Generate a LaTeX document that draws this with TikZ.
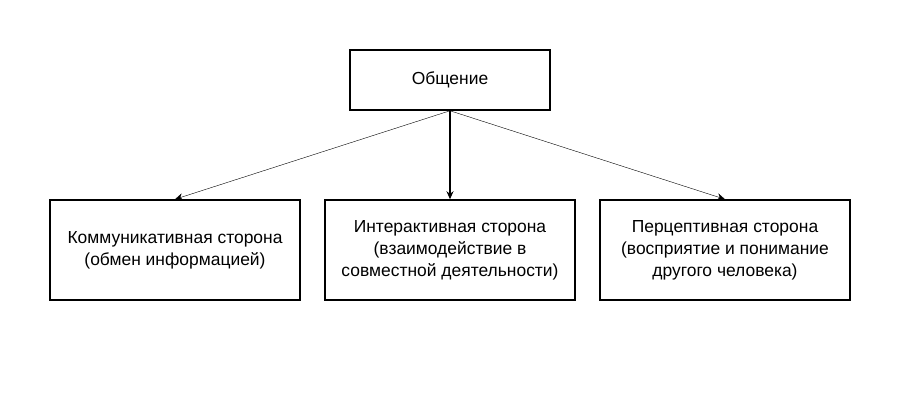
\documentclass[tikz,border=0pt]{standalone}
\usepackage{fontspec}
\setmainfont{Liberation Sans}
\usetikzlibrary{positioning,arrows.meta}
\begin{document}
\begin{tikzpicture}[x=1bp,y=-1bp,
    box/.style={draw,line width=1.5bp,minimum width=250bp,minimum height=100bp,align=center,
        font=\fontsize{17.5}{22}\selectfont},
    link/.style={-{Stealth[length=8bp,width=7bp]}}]
\useasboundingbox (0,0) rectangle (900,400);
\node[box,minimum width=200bp,minimum height=60bp] (obsh) at (450,80) {Общение};
\node[box] (komm) at (175,250) {Коммуникативная сторона\\(обмен информацией)};
\node[box] (inter) at (450,250) {Интерактивная сторона\\(взаимодействие в\\совместной деятельности)};
\node[box] (perc) at (725,250) {Перцептивная сторона\\(восприятие и понимание\\другого человека)};
% связи
\draw[link] (obsh.south) -- (komm.north);
\draw[link,line width=1.5bp] (obsh.south) -- (inter.north);
\draw[link] (obsh.south) -- (perc.north);
\end{tikzpicture}
\end{document}
